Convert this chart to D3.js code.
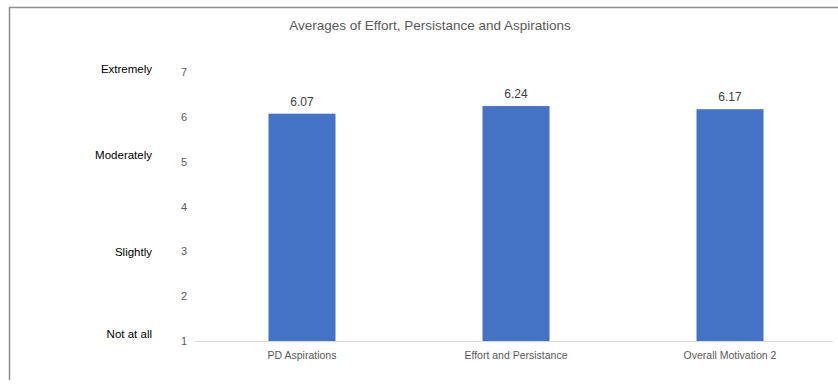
<!DOCTYPE html>
<html>
<head>
<meta charset="utf-8">
<script src="https://cdn.jsdelivr.net/npm/d3@7"></script>
<style>
  body { margin: 0; background: #fff; }
  svg { display: block; font-family: "Liberation Sans", Arial, sans-serif; }
</style>
</head>
<body>
<script>
// data
const categories = ["PD Aspirations", "Effort and Persistance", "Overall Motivation 2"];
const averages = [6.07, 6.24, 6.17];
const yTicks = [1, 2, 3, 4, 5, 6, 7];
const scaleLabels = ["Not at all", "Slightly", "Moderately", "Extremely"];
const scaleLabelValues = [1.16, 2.99, 5.15, 7.07];

const W = 838, H = 387;
const plot = {left: 195, right: 837, top: 72, bottom: 341};

const svg = d3.select("body")
  .append("svg")
  .attr("width", W)
  .attr("height", H);

// chart frame (top and left edges visible)
svg.append("path")
  .attr("d", `M9.5,380 V7.5 H838`)
  .attr("fill", "none")
  .attr("stroke", "#8c8c8c")
  .attr("stroke-width", 1.5);

const x = d3.scaleBand()
  .domain(categories)
  .range([plot.left, plot.right])
  .paddingInner(0.687)
  .paddingOuter(0.3435);

const y = d3.scaleLinear()
  .domain([1, 7])
  .range([plot.bottom, plot.top]);

// y axis numbers (no line)
const yAxis = svg.append("g")
  .attr("transform", `translate(${plot.left - 8}, 0)`)
  .call(d3.axisLeft(y).tickValues(yTicks).tickSize(0).tickPadding(0).tickFormat(d3.format("d")));
yAxis.select(".domain").remove();
yAxis.selectAll("text")
  .attr("fill", "#595959")
  .style("font-size", "11px")
  .style("font-family", "Liberation Sans, Arial, sans-serif");

// baseline
svg.append("line")
  .attr("x1", plot.left)
  .attr("x2", 833)
  .attr("y1", y(1) + 0.5)
  .attr("y2", y(1) + 0.5)
  .attr("stroke", "#d9d9d9")
  .attr("stroke-width", 1);

// bars
svg.selectAll(".bar")
  .data(averages)
  .join("rect")
  .attr("class", "bar")
  .attr("x", (d, i) => x(categories[i]))
  .attr("y", d => y(d))
  .attr("width", x.bandwidth())
  .attr("height", d => y(1) - y(d))
  .attr("fill", "#4472c4");

// value labels
svg.selectAll(".val")
  .data(averages)
  .join("text")
  .attr("class", "val")
  .attr("x", (d, i) => x(categories[i]) + x.bandwidth() / 2)
  .attr("y", d => y(d) - 8)
  .attr("text-anchor", "middle")
  .attr("fill", "#404040")
  .style("font-size", "12px")
  .text(d => d.toFixed(2));

// category labels
svg.selectAll(".cat")
  .data(categories)
  .join("text")
  .attr("class", "cat")
  .attr("x", d => x(d) + x.bandwidth() / 2)
  .attr("y", plot.bottom + 18)
  .attr("text-anchor", "middle")
  .attr("fill", "#595959")
  .style("font-size", "10.5px")
  .text(d => d);

// verbal scale labels on the left
svg.selectAll(".scale")
  .data(scaleLabels)
  .join("text")
  .attr("class", "scale")
  .attr("x", 152)
  .attr("y", (d, i) => y(scaleLabelValues[i]))
  .attr("dy", "0.35em")
  .attr("text-anchor", "end")
  .attr("fill", "#000")
  .style("font-size", "11.5px")
  .text(d => d);

// title
svg.append("text")
  .attr("x", 430)
  .attr("y", 30)
  .attr("text-anchor", "middle")
  .attr("fill", "#595959")
  .style("font-size", "13.5px")
  .text("Averages of Effort, Persistance and Aspirations");
</script>
</body>
</html>
